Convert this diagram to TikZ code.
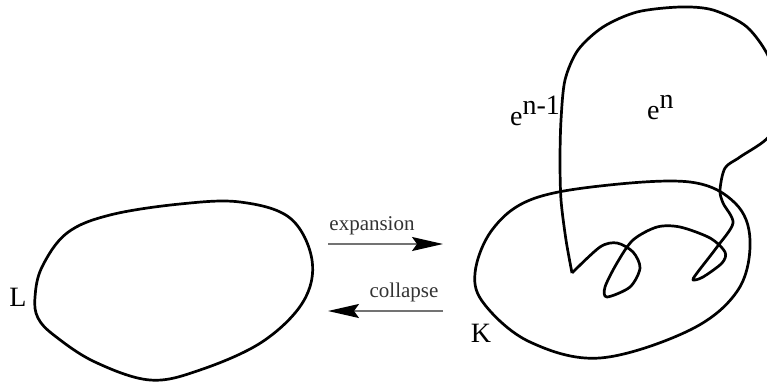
\documentclass[tikz,border=0pt]{standalone}
\usepackage{fontspec}
\setmainfont{Liberation Serif}
\usetikzlibrary{arrows.meta}
\begin{document}
\begin{tikzpicture}[x=1pt,y=-1pt,
  every node/.style={inner sep=0pt},
  lbl/.style={font=\fontsize{28}{30}\selectfont},
  movetext/.style={font=\fontsize{21}{24}\selectfont,text=black!80},
  blob/.style={line width=2.7pt,line join=round},
  arr/.style={-{Stealth[length=31pt,width=14pt,inset=5pt,color=black]},line width=1.6pt,black!55}]
  \useasboundingbox (0,0) rectangle (767,383);
  % complex L
  \draw[blob] plot[smooth cycle,tension=0.6] coordinates {(35,297) (42,267) (67,233) (110,215) (180,204) (240,202) (290,218) (312,260) (303,302) (262,342) (200,370) (150,380) (95,362) (55,336) (38,318)};
  \node[lbl] (labL) at (18,297) {L};
  % complex K
  \draw[blob] plot[smooth cycle,tension=0.6] coordinates {(475,273) (492,230) (530,200) (600,186) (690,182) (735,203) (750,240) (738,290) (690,330) (600,358) (530,342) (485,305)};
  \node[lbl] (labK) at (481,333) {K};
  % the pair of cells
  \draw[blob] plot[smooth] coordinates {(572,273) (566,240) (561,200) (560,160) (561,120) (565,80) (578,50) (603,27) (637,12) (680,7) (713,10) (747,27) (770,60) (775,100) (770,135) (740,157) (725,168) (720,190) (723,203) (733,223) (717,247) (697,273) (693,280) (703,277) (722,263) (725,252) (710,238) (680,227) (657,227) (633,240) (617,263) (605,287) (607,297) (630,287) (640,268) (633,252) (617,243) (600,247) (572,273)};
  \node[lbl,anchor=base west] (cellA) at (510,125) {e\raisebox{11pt}{n-1}};
  \node[lbl,anchor=base west] (cellB) at (647,119) {e\raisebox{11pt}{n}};
  % moves
  \coordinate (expL) at (328,244);
  \coordinate (expR) at (443,244);
  \coordinate (colL) at (328,311);
  \coordinate (colR) at (443,311);
  \draw[arr] (expL) -- (expR);
  \draw[arr] (colR) -- (colL);
  \node[movetext,anchor=base] (expText) at (372,230) {expansion};
  \node[movetext,anchor=base] (colText) at (404,297) {collapse};
\end{tikzpicture}
\end{document}
